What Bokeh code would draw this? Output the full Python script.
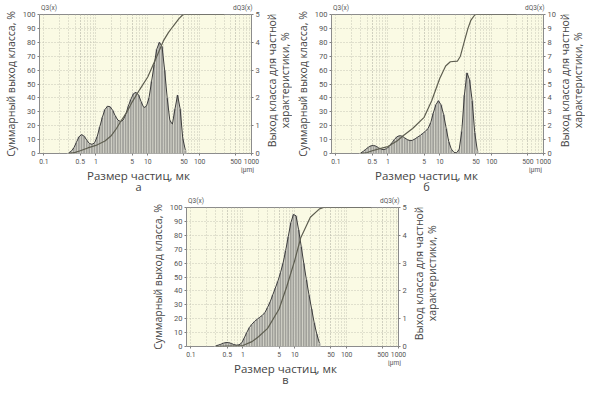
from math import pi, sqrt
from bokeh.plotting import figure
from bokeh.models import (Range1d, LinearAxis, LogAxis, FixedTicker, Spacer,
                          CustomJSTickFormatter)
from bokeh.core.properties import value
from bokeh.layouts import column, row
from bokeh.embed import file_html
from bokeh.resources import INLINE

# --- data -------------------------------------------------------------
# particle size class edges, µm
bin_edges = [0.282, 0.316, 0.355, 0.398, 0.447, 0.501, 0.562, 0.631, 0.708, 0.794,
             0.891, 1.00, 1.12, 1.26, 1.41, 1.58, 1.78, 2.00, 2.24, 2.51,
             2.82, 3.16, 3.55, 3.98, 4.47, 5.01, 5.62, 6.31, 7.08, 7.94,
             8.91, 10.0, 11.2, 12.6, 14.1, 15.8, 17.8, 20.0, 22.4, 25.1,
             28.2, 31.6, 35.5, 39.8, 44.7, 50.1, 56.2, 63.1]

# class yield (right axis), %
dq_a = [0.02, 0.08, 0.2, 0.4, 0.6, 0.68, 0.62, 0.48, 0.36, 0.33,
        0.38, 0.6, 0.95, 1.3, 1.58, 1.7, 1.68, 1.55, 1.35, 1.2,
        1.15, 1.2, 1.4, 1.7, 1.95, 2.15, 2.2, 2.1, 1.85, 1.65,
        1.7, 2.0, 2.6, 3.2, 3.75, 4.0, 3.85, 3.0, 2.0, 1.2,
        1.05, 1.6, 2.1, 1.6, 0.55, 0.12, 0]
dq_b = [0.03, 0.15, 0.3, 0.45, 0.55, 0.58, 0.52, 0.4, 0.3, 0.28,
        0.35, 0.5, 0.75, 1.0, 1.2, 1.28, 1.25, 1.12, 1.0, 0.92,
        0.95, 1.05, 1.18, 1.3, 1.45, 1.6, 1.8, 2.2, 2.9, 3.5,
        3.8, 3.5, 2.8, 1.8, 0.85, 0.3, 0.08, 0.05, 0.3, 1.6,
        4.2, 5.8, 5.3, 3.8, 1.5, 0.2, 0]
dq_c = [0.02, 0.05, 0.08, 0.12, 0.14, 0.14, 0.11, 0.07, 0.05, 0.06,
        0.12, 0.3, 0.5, 0.68, 0.8, 0.9, 0.98, 1.05, 1.12, 1.22,
        1.4, 1.6, 1.85, 2.1, 2.35, 2.65, 3.0, 3.45, 3.95, 4.45,
        4.75, 4.7, 4.2, 3.6, 3.0, 2.4, 1.85, 1.35, 0.85, 0.45,
        0.12, 0, 0, 0, 0, 0, 0]

# cumulative yield (left axis), %
cum_a_x = [0.3, 0.4, 0.5, 0.7, 1, 1.5, 2, 2.5, 3, 4, 5, 7, 10, 15, 20, 25, 30, 40, 48, 300]
cum_a_y = [0, 0.8, 2, 4, 5.8, 9, 13, 18, 23, 30, 37, 46, 55, 70, 81, 87, 91, 97, 100, 100]
cum_b_x = [0.3, 0.4, 0.5, 0.7, 1, 1.5, 2, 3, 5, 7, 10, 13, 16, 22, 25, 30, 35, 40, 48, 300]
cum_b_y = [0, 0.7, 2, 3.5, 5, 9, 13, 18, 26, 38, 54, 63, 66, 66.5, 70, 81, 90, 96, 100, 100]
cum_c_x = [0.3, 0.5, 0.8, 1, 1.5, 2, 3, 5, 7, 10, 13, 20, 30, 36, 300]
cum_c_y = [0, 0.3, 0.5, 0.7, 3.5, 7, 13, 27, 43, 62, 78, 93, 99, 100, 100]

x_ticks = [0.1, 0.5, 1, 5, 10, 50, 100, 500, 1000]
left_ticks = [0, 10, 20, 30, 40, 50, 60, 70, 80, 90, 100]
unit_label = "[µm]"
q3_label = "Q3(x)"
dq3_label = "dQ3(x)"

y_title = "Суммарный выход класса, %"
x_title = "Размер частиц, мк"
r_title1 = "Выход класса для частной"
r_title2 = "характеристики, %"

# --- layout / styling ---------------------------------------------------
TICK_FONT = "Roboto"
TITLE_FONT = "Open Sans"
FH = 139          # frame height
FW = 212          # frame width
BT, BB, BR = 10, 14, 14   # top / bottom / right borders of each panel
RW = 27           # width of the strip holding the right-hand title
LW = 26           # height of the strip under each panel
minor = [m * d for d in (0.1, 1, 10, 100) for m in range(2, 10)]


def style_axis(ax):
    ax.axis_line_color = None
    ax.major_tick_line_color = "#808080"
    ax.major_tick_out = 2
    ax.major_tick_in = 0
    ax.minor_tick_line_color = None
    ax.major_label_text_font = TICK_FONT
    ax.major_label_text_font_size = "7.5px"
    ax.major_label_text_color = "#555555"
    ax.major_label_standoff = 2
    ax.axis_label_text_font = TITLE_FONT
    ax.axis_label_text_font_style = "normal"
    ax.axis_label_text_color = "#444444"
    ax.axis_label_standoff = 2


def strip(w, h, yr):
    f = figure(width=w, height=h, x_range=Range1d(0, w), y_range=yr,
               output_backend="svg", toolbar_location=None, min_border=0,
               x_axis_location=None, y_axis_location=None,
               outline_line_color=None, background_fill_color="white",
               border_fill_color="white")
    f.grid.visible = False
    return f


def right_strip():
    # y in pixels measured from the panel's frame bottom
    f = strip(RW, BT + FH + BB, Range1d(-BB, FH + BT))
    f.text(x=[6.5, 19.5], y=[FH / 2, FH / 2], text=[r_title1, r_title2], angle=pi / 2,
           text_align="center", text_baseline="middle", text_color="#444444",
           text_font=value(TITLE_FONT), text_font_size="10.5px")
    return f


def bottom_strip(bl, letter):
    w = bl + FW + BR + RW
    f = strip(w, LW, Range1d(LW, 0))   # y in pixels from the top of the strip
    cx = bl + FW / 2
    f.text(x=[cx], y=[8], text=[x_title], text_align="center", text_baseline="middle",
           text_color="#444444", text_font=value(TITLE_FONT), text_font_size="11.5px")
    f.text(x=[cx], y=[19], text=[letter], text_align="center", text_baseline="middle",
           text_color="#444444", text_font=value(TITLE_FONT), text_font_size="11px")
    f.text(x=[bl + FW + 3], y=[2.5], text=[unit_label], text_align="center",
           text_baseline="middle", text_color="#555555",
           text_font=value(TICK_FONT), text_font_size="6.5px")
    return f


def make_panel(dq, cx, cy, dq_max, bl):
    p = figure(x_axis_type="log", x_range=Range1d(0.082, 1000), y_range=Range1d(0, 100),
               frame_width=FW, frame_height=FH, output_backend="svg",
               toolbar_location=None, min_border_left=bl, min_border_right=BR,
               min_border_top=BT, min_border_bottom=BB,
               background_fill_color="#fafae4", border_fill_color="white",
               outline_line_color="#8c8c8c", outline_line_width=1)
    p.extra_y_ranges = {"dq": Range1d(0, dq_max)}

    xa = p.xaxis[0]
    xa.ticker = FixedTicker(ticks=x_ticks, minor_ticks=minor)
    xa.formatter = CustomJSTickFormatter(code="return String(tick);")
    style_axis(xa)
    xa.major_label_text_font_size = "6.8px"
    xa.major_label_standoff = 1

    ya = p.yaxis[0]
    ya.ticker = FixedTicker(ticks=left_ticks)
    style_axis(ya)
    ya.axis_label = y_title
    ya.axis_label_text_font_size = "10.5px"

    ra = LinearAxis(y_range_name="dq", ticker=FixedTicker(ticks=list(range(dq_max + 1))))
    style_axis(ra)
    p.add_layout(ra, "right")

    ta = LogAxis(ticker=FixedTicker(ticks=[0.125, 680]),
                 formatter=CustomJSTickFormatter(args=dict(a=q3_label, b=dq3_label),
                                                 code="return tick < 1 ? a : b;"))
    style_axis(ta)
    ta.major_tick_line_color = None
    ta.major_label_text_font_size = "6.5px"
    ta.major_label_standoff = 1
    p.add_layout(ta, "above")

    for g in (p.xgrid[0], p.ygrid[0]):
        g.grid_line_color = "#b9b9aa"
        g.grid_line_dash = "1 2"
        g.grid_line_width = 0.8
    p.xgrid[0].minor_grid_line_color = "#b9b9aa"
    p.xgrid[0].minor_grid_line_dash = "1 2"
    p.xgrid[0].minor_grid_line_width = 0.8

    idx = [i for i, v in enumerate(dq) if v > 0]
    lefts = [bin_edges[i] for i in idx]
    rights = [bin_edges[i + 1] for i in idx]
    tops = [dq[i] for i in idx]
    p.quad(left=lefts, right=rights, bottom=0, top=tops, y_range_name="dq",
           fill_color="#a0a09a", line_color="#e6e6dc", line_width=0.5)
    centers = [sqrt(bin_edges[i] * bin_edges[i + 1]) for i in idx]
    p.line(centers, tops, y_range_name="dq", line_color="#3c3c3c", line_width=1)

    p.line(cx, cy, line_color="#5e5e50", line_width=1.2)
    return p


BL_A, BL_B, BL_C = 32, 35, 32
pa = make_panel(dq_a, cum_a_x, cum_a_y, 5, BL_A)
pb = make_panel(dq_b, cum_b_x, cum_b_y, 10, BL_B)
pc = make_panel(dq_c, cum_c_x, cum_c_y, 5, BL_C)

top_row = row(pa, right_strip(), pb, right_strip())
top_labels = row(bottom_strip(BL_A, "а"), bottom_strip(BL_B, "б"))
bot_row = row(Spacer(width=147, height=10), pc, right_strip())
bot_labels = row(Spacer(width=147, height=10), bottom_strip(BL_C, "в"))

layout = column(top_row, top_labels, bot_row, bot_labels)

open("out.html", "w").write(file_html(layout, INLINE))
